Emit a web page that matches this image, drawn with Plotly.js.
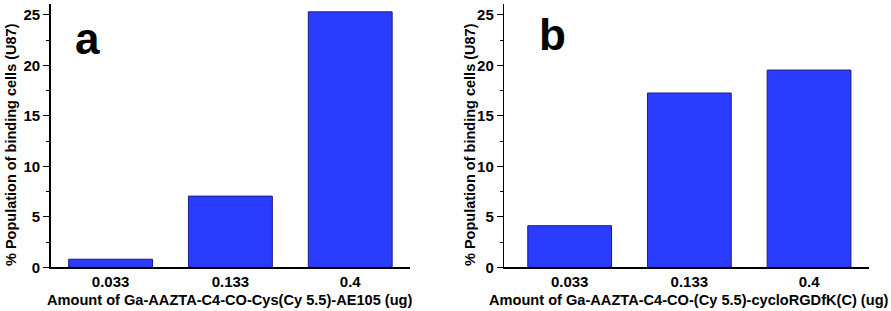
<!DOCTYPE html>
<html>
<head>
<meta charset="utf-8">
<script src="https://cdn.plot.ly/plotly-3.0.1.min.js"></script>
<style>html,body{margin:0;padding:0;background:#fff;}#chart{width:891px;height:311px;}</style>
</head>
<body>
<div id="chart"></div>
<script>
const categories = ['0.033', '0.133', '0.4'];
const valuesA = [0.8, 7.05, 25.3];
const valuesB = [4.12, 17.26, 19.53];
const yTicks = [0, 5, 10, 15, 20, 25];
const panelLabels = ['a', 'b'];
const xTitles = ['Amount of Ga-AAZTA-C4-CO-Cys(Cy 5.5)-AE105 (ug)', 'Amount of Ga-AAZTA-C4-CO-(Cy 5.5)-cycloRGDfK(C) (ug)'];
const yTitle = '% Population of binding cells (U87)';

const FONT = 'Liberation Sans, Arial, sans-serif';
const barStyle = {color: '#2a3cfd', line: {color: '#1c1c8c', width: 1}};

const traces = [
  {type: 'bar', x: categories, y: valuesA, xaxis: 'x', yaxis: 'y', marker: barStyle, hoverinfo: 'x+y'},
  {type: 'bar', x: categories, y: valuesB, xaxis: 'x2', yaxis: 'y2', marker: barStyle, hoverinfo: 'x+y'}
];

function yax(anchor) {
  return {
    anchor: anchor, domain: [0.1405, 0.987], range: [0, 26.07],
    tickvals: yTicks, ticktext: yTicks.map(String),
    ticks: 'outside', ticklen: 6, tickwidth: 1.2, tickcolor: '#000',
    showline: true, linecolor: '#000', linewidth: 1.5, showgrid: false, zeroline: false,
    tickfont: {family: FONT, size: 15, color: '#000', weight: 'bold'},
    minor: {dtick: 2.5, tick0: 0, ticks: 'outside', ticklen: 3, tickcolor: '#000', tickwidth: 1},
    fixedrange: true
  };
}
function xax(domain, range, anchor) {
  return {
    type: 'category', anchor: anchor, domain: domain, range: range,
    showline: true, linecolor: '#000', linewidth: 1.5, ticks: '', showgrid: false,
    tickfont: {family: FONT, size: 15, color: '#000', weight: 'bold'},
    fixedrange: true
  };
}

const layout = {
  width: 891, height: 311,
  margin: {l: 0, r: 0, t: 0, b: 0},
  paper_bgcolor: '#fff', plot_bgcolor: '#fff',
  showlegend: false, bargap: 0.3,
  xaxis: xax([0.0569, 0.4603], [-0.5, 2.5], 'y'),
  yaxis: yax('x'),
  xaxis2: xax([0.566, 0.9756], [-0.546, 2.503], 'y2'),
  yaxis2: yax('x2'),
  annotations: [
    {text: panelLabels[0], xref: 'paper', yref: 'paper', x: 87/891, y: 1 - 38/311, showarrow: false,
     font: {family: FONT, size: 44, color: '#000', weight: 'bold'}, xanchor: 'center', yanchor: 'middle'},
    {text: panelLabels[1], xref: 'paper', yref: 'paper', x: 552/891, y: 1 - 34/311, showarrow: false,
     font: {family: FONT, size: 44, color: '#000', weight: 'bold'}, xanchor: 'center', yanchor: 'middle'},
    {text: xTitles[0], xref: 'paper', yref: 'paper', x: 230/891, y: 1 - 300/311, showarrow: false,
     font: {family: FONT, size: 14.6, color: '#000', weight: 'bold'}, xanchor: 'center', yanchor: 'middle'},
    {text: xTitles[1], xref: 'paper', yref: 'paper', x: 689/891, y: 1 - 300/311, showarrow: false,
     font: {family: FONT, size: 14.6, color: '#000', weight: 'bold'}, xanchor: 'center', yanchor: 'middle'},
    {text: yTitle, xref: 'paper', yref: 'paper', x: 11/891, y: 1 - 145/311, showarrow: false, textangle: -90,
     font: {family: FONT, size: 14.5, color: '#000', weight: 'bold'}, xanchor: 'center', yanchor: 'middle'},
    {text: yTitle, xref: 'paper', yref: 'paper', x: 470/891, y: 1 - 145/311, showarrow: false, textangle: -90,
     font: {family: FONT, size: 14.5, color: '#000', weight: 'bold'}, xanchor: 'center', yanchor: 'middle'}
  ]
};

Plotly.newPlot('chart', traces, layout, {displayModeBar: false, staticPlot: true});
</script>
</body>
</html>
